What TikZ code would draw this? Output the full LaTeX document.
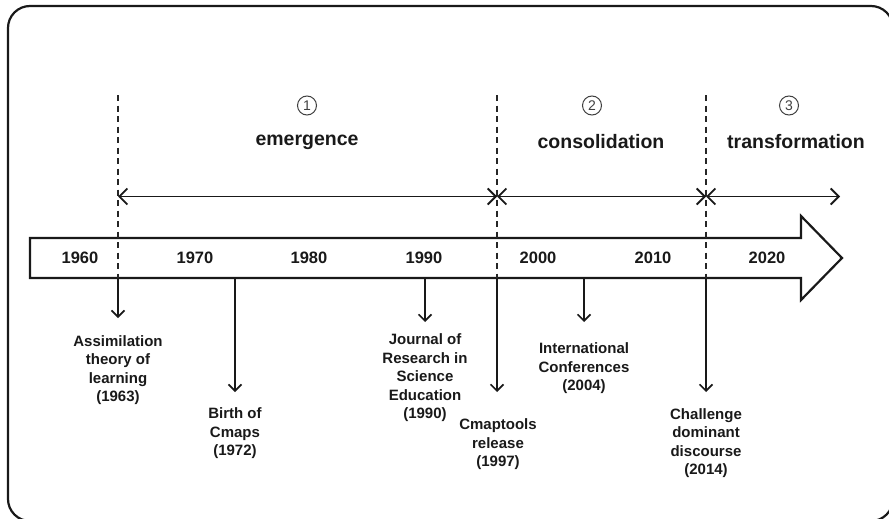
\documentclass[tikz,border=0pt]{standalone}
\usepackage{fontspec}
\setmainfont{Liberation Sans}
\usetikzlibrary{arrows.meta}
\begin{document}
\begin{tikzpicture}[x=1pt,y=-1pt,
  every node/.style={text=black!90},
  divider/.style={draw=black!85, line width=1.5pt, dash pattern=on 6pt off 4.5pt},
  span/.style={draw=black!90, line width=1.8pt,
    {Straight Barb[length=8pt,width=16pt]}-{Straight Barb[length=8pt,width=16pt]}},
  event/.style={draw=black!90, line width=1.6pt,
    -{Straight Barb[length=6.5pt,width=13pt]}},
  year/.style={font=\fontsize{16.5}{18}\selectfont\bfseries},
  phase/.style={font=\fontsize{19.5}{22}\selectfont\bfseries},
  num/.style={circle, draw=black!75, line width=1pt, minimum size=19pt, inner sep=0pt,
    font=\fontsize{14}{14}\selectfont, text=black!75},
  note/.style={align=center, font=\fontsize{15}{18.5}\selectfont\bfseries, inner sep=0pt},
]
\useasboundingbox (0,0) rectangle (889,519);

% outer frame
\begin{scope}
  \clip (0,0) rectangle (889,519);
  \draw[black!90, line width=2.2pt, rounded corners=22pt] (8,6) rectangle (893,521);
\end{scope}

% timeline bar shaped as a block arrow
\draw[black!90, line width=2.2pt, line join=miter]
  (30,238) -- (801,238) -- (801,216) -- (842,258) -- (801,300) -- (801,278) -- (30,278) -- cycle;

% decade labels
\node[year] (y1960) at (80,258) {1960};
\node[year] (y1970) at (195,258) {1970};
\node[year] (y1980) at (309,258) {1980};
\node[year] (y1990) at (424,258) {1990};
\node[year] (y2000) at (538,258) {2000};
\node[year] (y2010) at (653,258) {2010};
\node[year] (y2020) at (767,258) {2020};

% period boundaries
\coordinate (d1top) at (118,95);  \coordinate (d1) at (118,278);
\coordinate (d2top) at (497,95);  \coordinate (d2) at (497,278);
\coordinate (d3top) at (706,95);  \coordinate (d3) at (706,278);
\draw[divider] (d1top) -- (d1);
\draw[divider] (d2top) -- (d2);
\draw[divider] (d3top) -- (d3);

% period spans
\coordinate (s1) at (118,196.5);
\coordinate (s2) at (497,196.5);
\coordinate (s3) at (706,196.5);
\coordinate (s4) at (840,196.5);
\draw[span] (s1) -- (s2);
\draw[span] (s2) -- (s3);
\draw[span] (s3) -- (s4);

% period names
\node[num] (n1) at (307,105.5) {1};
\node[num] (n2) at (592,105.5) {2};
\node[num] (n3) at (789,105.5) {3};
\node[phase] (p1) at (307,142) {emergence};
\node[phase] (p2) at (601,142) {consolidation};
\node[phase] (p3) at (796,142) {transformation};

% events
\coordinate (e1963) at (118,278);
\coordinate (e1972) at (235,278);
\coordinate (e1990) at (425,278);
\coordinate (e1997) at (497,278);
\coordinate (e2004) at (584,278);
\coordinate (e2014) at (706,278);
\draw[event] (e1963) -- ++(0,40);
\draw[event] (e1972) -- ++(0,114);
\draw[event] (e1990) -- ++(0,44);
\draw[event] (e1997) -- ++(0,114);
\draw[event] (e2004) -- ++(0,44);
\draw[event] (e2014) -- ++(0,114);

\node[note] (l1963) at (118,370) {Assimilation\\theory of\\learning\\(1963)};
\node[note] (l1972) at (235,433.5) {Birth of\\Cmaps\\(1972)};
\node[note] (l1990) at (425,377.7) {Journal of\\Research in\\Science\\Education\\(1990)};
\node[note] (l1997) at (498,444.5) {Cmaptools\\release\\(1997)};
\node[note] (l2004) at (584,368.5) {International\\Conferences\\(2004)};
\node[note] (l2014) at (706,443) {Challenge\\dominant\\discourse\\(2014)};
\end{tikzpicture}
\end{document}
